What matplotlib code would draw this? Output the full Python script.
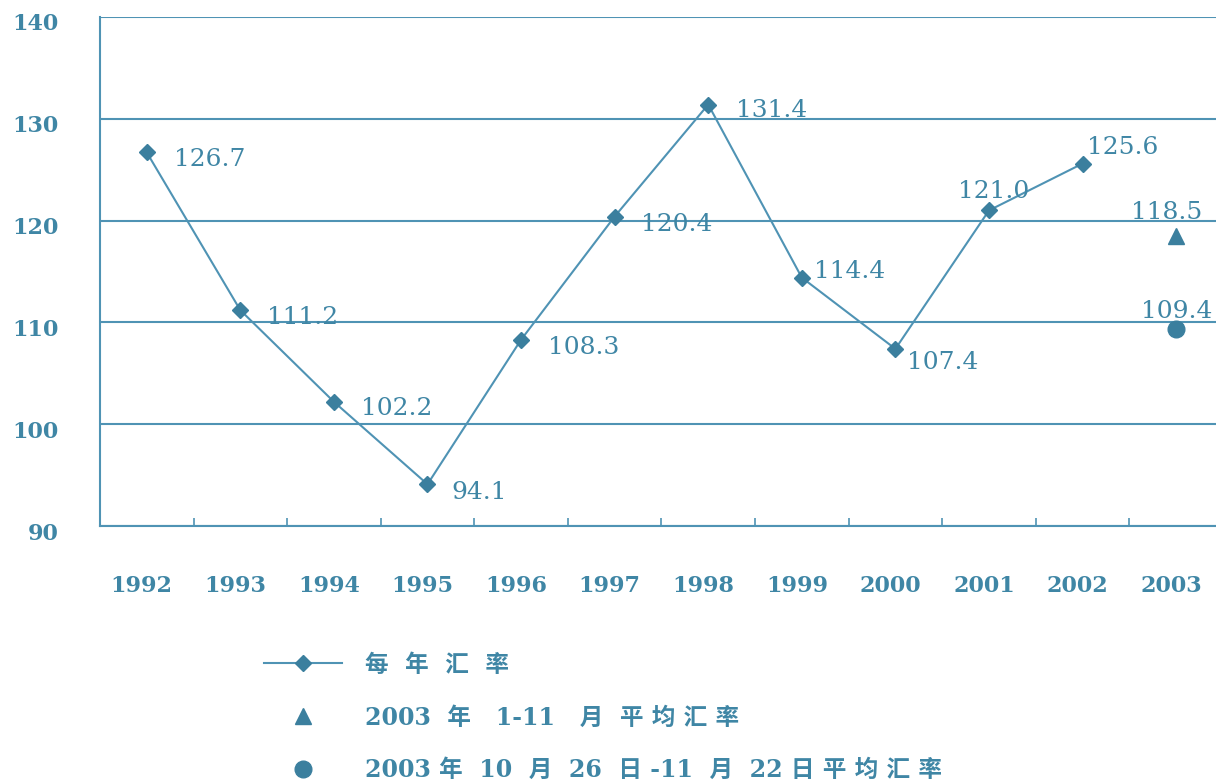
import matplotlib.pyplot as plt
import matplotlib.transforms as mtransforms
from matplotlib.lines import Line2D

# 数据
years = ['1992', '1993', '1994', '1995', '1996', '1997', '1998', '1999',
         '2000', '2001', '2002', '2003']
rate = [126.7, 111.2, 102.2, 94.1, 108.3, 120.4, 131.4, 114.4, 107.4, 121.0, 125.6]
avg_jan_nov = 118.5
avg_oct_nov = 109.4
yticks = [90, 100, 110, 120, 130, 140]
labels = ['每  年  汇  率',
          '2003  年   1-11   月  平 均 汇 率',
          '2003 年  10  月  26  日 -11  月  22 日 平 均 汇 率']

# 数值标签偏移 (点) 与对齐
offsets = [(19.5, -5), (19.5, -5), (19.5, -5), (17.3, -5.8), (19.5, -5.8), (19, -5.8),
           (20, -4.3), (8.6, 4.3), (8, -10), (3.6, 13.7), (3, 11.5)]
aligns = ['left'] * 9 + ['center', 'left']

line_c = '#4f93b4'
mark_c = '#3b7f9e'
text_c = '#3f86a5'
serif = ['DejaVu Serif', 'Noto Sans CJK SC']

fig = plt.figure(figsize=(12.16, 7.83), dpi=100)
ax = fig.add_axes([0.0822, 0.3282, 0.9235, 0.6501])

x = list(range(len(rate)))
ax.plot(x, rate, color=line_c, lw=1.5, marker='D', ms=8, mfc=mark_c, mec=mark_c, zorder=3)
ax.plot([11], [avg_jan_nov], ls='none', marker='^', ms=11, color=mark_c, zorder=3)
ax.plot([11], [avg_oct_nov], ls='none', marker='o', ms=12, color=mark_c, zorder=3)

for xi, v, (dx, dy), ha in zip(x, rate, offsets, aligns):
    ax.annotate(f'{v:.1f}', (xi, v), xytext=(dx, dy), textcoords='offset points',
                ha=ha, va='center', fontsize=18, color=text_c, family=serif)
ax.annotate(f'{avg_jan_nov:.1f}', (11, avg_jan_nov), xytext=(-6.5, 16.5), textcoords='offset points',
            ha='center', va='center', fontsize=18, color=text_c, family=serif)
ax.annotate(f'{avg_oct_nov:.1f}', (11, avg_oct_nov), xytext=(0.7, 12.3), textcoords='offset points',
            ha='center', va='center', fontsize=18, color=text_c, family=serif)

ax.set_xlim(-0.5, 11.5)
ax.set_ylim(90, 140)
ax.set_yticks(yticks)
ax.set_yticklabels([str(t) for t in yticks], fontsize=16, color=text_c, family=serif, fontweight='bold')
ax.set_xticks(range(len(years)))
ax.set_xticklabels(years, fontsize=16, color=text_c, family=serif, fontweight='bold')
ax.set_xticks([i - 0.5 for i in range(len(years))], minor=True)
ax.tick_params(axis='y', length=0, pad=29.5)
ax.tick_params(axis='x', which='major', length=0, pad=35)
ax.tick_params(axis='x', which='minor', direction='in', length=6, color=line_c, width=1.2)
ax.grid(axis='y', color=line_c, lw=1.5)
for s in ['top', 'right']:
    ax.spines[s].set_visible(False)
for s in ['left', 'bottom']:
    ax.spines[s].set_color(line_c)
    ax.spines[s].set_linewidth(1.5)

# 刻度标签微调
shift_y = mtransforms.ScaledTranslation(0, -5 / 100, fig.dpi_scale_trans)
for t in ax.get_yticklabels():
    t.set_transform(t.get_transform() + shift_y)
shift_x = mtransforms.ScaledTranslation(-5 / 100, 0, fig.dpi_scale_trans)
for t in ax.get_xticklabels():
    t.set_transform(t.get_transform() + shift_x)

handles = [
    Line2D([], [], color=line_c, lw=1.5, marker='D', ms=8, mfc=mark_c, mec=mark_c),
    Line2D([], [], ls='none', marker='^', ms=11, color=mark_c),
    Line2D([], [], ls='none', marker='o', ms=12, color=mark_c),
]
leg = fig.legend(handles, labels, loc='upper left', bbox_to_anchor=(0.2, 0.1935),
                 frameon=False, handlelength=3.3, handletextpad=0.95, labelspacing=1.22,
                 prop={'family': serif, 'size': 17, 'weight': 'bold'})
for t in leg.get_texts():
    t.set_color(text_c)

fig.savefig('out.png', dpi=100)
